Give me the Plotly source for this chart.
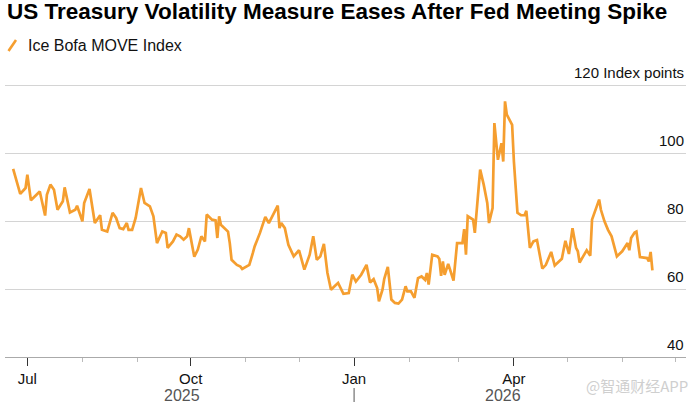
import plotly.graph_objects as go

# ---- data ----
dates = [
    "2025-06-23","2025-06-25","2025-06-27","2025-06-30","2025-07-01","2025-07-03","2025-07-06","2025-07-08",
    "2025-07-11","2025-07-12","2025-07-14","2025-07-16","2025-07-18","2025-07-21","2025-07-22","2025-07-25",
    "2025-07-28","2025-07-29","2025-08-01","2025-08-02","2025-08-05","2025-08-08","2025-08-11","2025-08-12",
    "2025-08-15","2025-08-18","2025-08-20","2025-08-22","2025-08-24","2025-08-26","2025-08-27","2025-08-29",
    "2025-08-31","2025-09-01","2025-09-03","2025-09-05","2025-09-08","2025-09-10","2025-09-12","2025-09-15",
    "2025-09-17","2025-09-18","2025-09-21","2025-09-23","2025-09-25","2025-09-27","2025-09-29","2025-09-30",
    "2025-10-02","2025-10-03","2025-10-05","2025-10-07","2025-10-09","2025-10-10","2025-10-13","2025-10-15",
    "2025-10-16","2025-10-17","2025-10-18","2025-10-20","2025-10-22","2025-10-23","2025-10-24","2025-10-27",
    "2025-10-29","2025-10-30","2025-11-01","2025-11-03","2025-11-05","2025-11-06","2025-11-09","2025-11-12",
    "2025-11-14","2025-11-16","2025-11-19","2025-11-20","2025-11-21","2025-11-23","2025-11-25","2025-11-28",
    "2025-12-01","2025-12-04","2025-12-07","2025-12-09","2025-12-11","2025-12-13","2025-12-15","2025-12-17",
    "2025-12-19","2025-12-21","2025-12-23","2025-12-26","2025-12-29","2025-12-31","2026-01-02","2026-01-05",
    "2026-01-07","2026-01-08","2026-01-10","2026-01-12","2026-01-14","2026-01-15","2026-01-17","2026-01-18",
    "2026-01-20","2026-01-22","2026-01-24","2026-01-26","2026-01-28","2026-01-30","2026-01-31","2026-02-02",
    "2026-02-04","2026-02-06","2026-02-08","2026-02-10","2026-02-11","2026-02-12","2026-02-14","2026-02-17",
    "2026-02-18","2026-02-19","2026-02-20","2026-02-21","2026-02-23","2026-02-26","2026-02-28","2026-03-03",
    "2026-03-04","2026-03-05","2026-03-06","2026-03-09","2026-03-10","2026-03-12","2026-03-13","2026-03-15",
    "2026-03-17","2026-03-18","2026-03-20","2026-03-21","2026-03-23","2026-03-25","2026-03-26","2026-03-27",
    "2026-03-28","2026-03-31","2026-04-01","2026-04-03","2026-04-05","2026-04-07","2026-04-08","2026-04-10",
    "2026-04-12","2026-04-14","2026-04-17","2026-04-19","2026-04-22","2026-04-24","2026-04-28","2026-04-30",
    "2026-05-02","2026-05-04","2026-05-06","2026-05-07","2026-05-08","2026-05-10","2026-05-12","2026-05-14",
    "2026-05-15","2026-05-19","2026-05-20","2026-05-22","2026-05-24","2026-05-26","2026-05-29","2026-06-01",
    "2026-06-03","2026-06-04","2026-06-05","2026-06-06","2026-06-08","2026-06-09","2026-06-11","2026-06-15",
    "2026-06-16","2026-06-17","2026-06-18",
]
move_index = [
    95.3, 91.6, 88.0, 89.7, 93.6, 86.1, 87.7, 88.7,
    81.6, 87.7, 90.7, 89.2, 83.3, 85.8, 89.9, 82.5,
    83.3, 84.5, 79.9, 85.3, 89.4, 79.4, 81.7, 77.4,
    76.9, 82.4, 80.9, 77.9, 77.6, 79.4, 77.4, 77.4,
    80.9, 84.3, 89.7, 85.3, 84.3, 81.4, 73.5, 76.9,
    76.5, 72.1, 74.0, 76.0, 75.5, 74.5, 75.5, 77.9,
    73.0, 69.5, 71.6, 75.5, 74.0, 81.9, 80.4, 80.2,
    75.0, 81.4, 78.9, 77.9, 76.9, 73.5, 68.6, 67.1,
    66.6, 65.9, 66.5, 67.1, 70.6, 72.5, 76.5, 81.2,
    79.4, 81.4, 84.5, 77.9, 79.4, 77.9, 73.0, 69.6,
    71.4, 65.7, 70.1, 75.5, 68.6, 69.6, 73.3, 64.7,
    59.8, 60.8, 61.8, 58.6, 58.8, 64.2, 62.2, 64.2,
    65.9, 67.1, 61.9, 62.9, 60.3, 56.4, 59.8, 63.0,
    66.5, 56.9, 55.9, 55.7, 56.9, 60.8, 59.3, 59.3,
    57.4, 63.2, 63.7, 62.7, 64.7, 61.3, 70.1, 69.6,
    68.8, 63.9, 68.1, 64.2, 67.4, 62.5, 73.5, 73.5,
    77.6, 70.1, 81.4, 80.4, 76.5, 89.2, 95.1, 90.7,
    85.3, 79.4, 83.8, 108.8, 98.0, 102.9, 97.5, 115.2,
    111.3, 108.3, 97.5, 82.4, 81.7, 81.7, 83.0, 72.1,
    74.0, 74.4, 66.0, 67.1, 70.9, 66.9, 68.9, 74.2,
    70.3, 77.9, 72.1, 71.1, 67.8, 69.6, 71.4, 69.8,
    80.4, 86.3, 83.3, 79.9, 77.4, 75.5, 69.6, 71.1,
    73.0, 73.5, 71.4, 75.0, 76.6, 76.9, 69.4, 69.1,
    68.1, 70.9, 65.5,
]

series_name = "Ice Bofa MOVE Index"
title_text = "US Treasury Volatility Measure Eases After Fed Meeting Spike"

x_tickvals = ["2025-07-01", "2025-10-01", "2026-01-01", "2026-04-01"]
x_ticktext = ["Jul", "Oct", "Jan", "Apr"]
y_tickvals = [40, 60, 80, 100, 120]
y_ticktext = ["40", "60", "80", "100", "120 Index points"]
year_labels = ["2025", "2026"]
year_label_x = ["2025-09-26", "2026-03-26"]
year_boundary = "2026-01-01"

# ---- layout geometry ----
W, H = 692, 408
ML, MR, MT, MB = 5, 6, 84, 51
PW, PH = W - ML - MR, H - MT - MB

def px(x):
    return (x - ML) / PW

def py(y):
    return (H - MB - y) / PH

ORANGE = "#F59E2F"
FONT = "Liberation Sans, Arial, sans-serif"

fig = go.Figure()
fig.add_trace(go.Scatter(
    x=dates, y=move_index, mode="lines", name=series_name,
    line=dict(color=ORANGE, width=2.7), showlegend=False,
))

fig.update_layout(
    width=W, height=H,
    margin=dict(l=ML, r=MR, t=MT, b=MB),
    paper_bgcolor="white", plot_bgcolor="white",
    font=dict(family=FONT, color="#111111", size=15),
    title=dict(
        text="<b>" + title_text + "</b>",
        x=7 / W, xanchor="left", xref="container",
        y=1 - 3 / H, yanchor="top", yref="container",
        font=dict(family=FONT, size=22.5, color="#000000"),
    ),
    xaxis=dict(
        type="date",
        range=["2025-06-18 10:00", "2026-07-06 22:00"],
        tickmode="array", tickvals=x_tickvals, ticktext=x_ticktext,
        ticks="outside", ticklen=8, tickcolor="#333333", tickwidth=1,
        showline=True, linecolor="#aaaaaa", linewidth=1,
        showgrid=False, zeroline=False,
        tickfont=dict(size=15, color="#111111"),
        minor=dict(ticks="outside", ticklen=4, tickcolor="#bbbbbb",
                   dtick="M1", tick0="2025-07-01", showgrid=False),
    ),
    yaxis=dict(
        range=[40, 120.3],
        tickmode="array", tickvals=y_tickvals,
        showticklabels=False, ticks="",
        showgrid=True, gridcolor="#d4d4d4", gridwidth=1,
        zeroline=False, showline=False,
    ),
)

# y-axis labels sitting above their gridlines at the right edge
for v, t in zip(y_tickvals, y_ticktext):
    fig.add_annotation(text=t, x=1, xref="paper", y=v, yref="y",
                       xanchor="right", yanchor="middle", yshift=12.5,
                       showarrow=False, font=dict(size=15, color="#111111"))

# legend: orange slash + label
fig.add_shape(type="line", xref="paper", yref="paper",
              x0=px(8.5), y0=py(51), x1=px(16), y1=py(40),
              line=dict(color=ORANGE, width=2.6))
fig.add_annotation(text=series_name, xref="paper", yref="paper",
                   x=px(26), y=py(45.5), xanchor="left", yanchor="middle",
                   showarrow=False, font=dict(size=16, color="#111111"))

# year labels and year separator
for lbl, xv in zip(year_labels, year_label_x):
    fig.add_annotation(text=lbl, x=xv, xref="x", y=py(395), yref="paper",
                       xanchor="center", yanchor="middle", showarrow=False,
                       font=dict(size=16, color="#555555"))
fig.add_shape(type="line", xref="x", yref="paper",
              x0=year_boundary, x1=year_boundary, y0=py(388), y1=py(402),
              line=dict(color="#555555", width=1))

# watermark
fig.add_annotation(text="@智通财经APP", xref="paper", yref="paper",
                   x=px(690), y=py(385), xanchor="right", yanchor="middle",
                   showarrow=False,
                   font=dict(size=15, color="#cfcfcf", family="Noto Sans CJK SC"))

fig.write_html("out.html")
